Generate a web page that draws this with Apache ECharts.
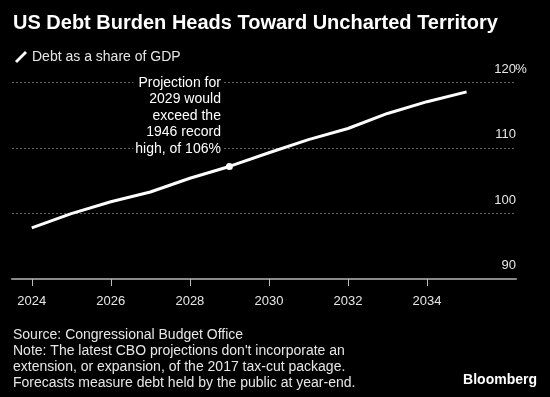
<!DOCTYPE html>
<html>
<head>
<meta charset="utf-8">
<script src="https://cdn.jsdelivr.net/npm/echarts@6/dist/echarts.min.js"></script>
<style>
  html, body { margin: 0; padding: 0; background: #000; }
  #chart { width: 550px; height: 397px; }
</style>
</head>
<body>
<div id="chart"></div>
<script>
// debt held by the public, % of GDP
const years = [2024, 2025, 2026, 2027, 2028, 2029, 2030, 2031, 2032, 2033, 2034, 2035]
const debtShare = [97.8, 100.0, 101.8, 103.3, 105.4, 107.2, 109.3, 111.3, 113.0, 115.3, 117.1, 118.6]
const xTicks = [2024, 2026, 2028, 2030, 2032, 2034]
const yTicks = [90, 100, 110, 120]
const noteYear = 2029
const noteLines = ["Projection for", "2029 would", "exceed the", "1946 record", "high, of 106%"]
const footLines = [
  "Source: Congressional Budget Office",
  "Note: The latest CBO projections don't incorporate an",
  "extension, or expansion, of the 2017 tax-cut package.",
  "Forecasts measure debt held by the public at year-end."
]

const font = "'Liberation Sans', Arial, sans-serif"
const chart = echarts.init(document.getElementById("chart"))
const noteIdx = years.indexOf(noteYear)

const option = {
  backgroundColor: "#000",
  animation: false,
  textStyle: { fontFamily: font },
  title: [
    {
      text: "US Debt Burden Heads Toward Uncharted Territory",
      left: 8,
      top: 8,
      textStyle: { color: "#fff", fontSize: 20, fontWeight: "bold", fontFamily: font }
    },
    {
      text: footLines.join("\n"),
      left: 8,
      top: 322,
      textStyle: { color: "#e6e6e6", fontSize: 14, lineHeight: 16, fontWeight: "normal", fontFamily: font }
    },
    {
      text: "Bloomberg",
      right: 8,
      top: 368,
      textStyle: { color: "#fff", fontSize: 14, fontWeight: "bold", fontFamily: font }
    }
  ],
  legend: {
    data: ["Debt as a share of GDP"],
    left: 10,
    top: 45,
    icon: "path://M0,10 L2,12 L12,2 L10,0 Z",
    itemWidth: 12,
    itemHeight: 12,
    itemGap: 6,
    textStyle: { color: "#e6e6e6", fontSize: 14, fontFamily: font }
  },
  grid: { left: 12, right: 34, top: 82.7, bottom: 118 },
  xAxis: {
    type: "value",
    min: 2023.5,
    max: 2036.25,
    axisLine: { lineStyle: { color: "#8a8a8a", width: 2 } },
    axisTick: { show: true, customValues: xTicks, length: 7, lineStyle: { color: "#bbb" } },
    axisLabel: {
      customValues: xTicks,
      color: "#e6e6e6",
      fontSize: 13,
      margin: 16,
      formatter: (v) => String(v)
    },
    splitLine: { show: false }
  },
  yAxis: {
    type: "value",
    position: "right",
    min: 90,
    max: 120,
    interval: 10,
    axisLine: { show: false },
    axisTick: { show: false },
    axisLabel: {
      inside: true,
      margin: -10,
      color: "#e6e6e6",
      fontSize: 13,
      verticalAlign: "bottom",
      padding: [0, 0, 7, 0],
      // keep the numbers flush with the grid edge, let the % hang past it
      formatter: (v) => "{n|" + v + "}" + (v === yTicks[yTicks.length - 1] ? "{p|%}" : "{p|}"),
      rich: {
        n: { color: "#e6e6e6", fontSize: 13, align: "right" },
        p: { width: 10, color: "#e6e6e6", fontSize: 13, align: "left" }
      }
    },
    splitLine: { lineStyle: { color: "#666", type: [2, 2], width: 1 } }
  },
  series: [
    {
      name: "Debt as a share of GDP",
      type: "line",
      data: years.map((y, i) => [y, debtShare[i]]),
      showSymbol: false,
      itemStyle: { color: "#fff" },
      lineStyle: { color: "#fff", width: 3 },
      markPoint: {
        symbol: "circle",
        symbolSize: 7,
        itemStyle: { color: "#fff" },
        data: [{ coord: [years[noteIdx], debtShare[noteIdx]] }],
        label: {
          show: true,
          formatter: noteLines.join("\n"),
          position: [-4, -6],
          align: "right",
          verticalAlign: "bottom",
          color: "#fff",
          fontSize: 14,
          lineHeight: 16.5,
          backgroundColor: "#000",
          padding: [0, 1, 0, 2]
        }
      }
    }
  ]
}
chart.setOption(option)
</script>
</body>
</html>
